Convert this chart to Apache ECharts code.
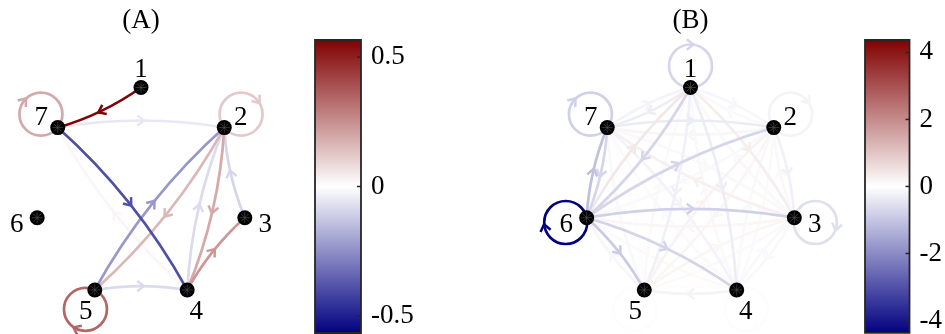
<!DOCTYPE html>
<html>
<head>
<meta charset="utf-8">
<script src="https://cdn.jsdelivr.net/npm/echarts@6/dist/echarts.min.js"></script>
<style>
  html, body { margin: 0; padding: 0; background: #fff; }
  #chart { width: 945px; height: 334px; }
</style>
</head>
<body>
<div id="chart"></div>
<script>
// nodes, same 7 in both panels
const nodeNames = ['1', '2', '3', '4', '5', '6', '7'];

// panel (A): directed edges [source, target, weight], self loops [node, weight]
const edgesA = [
  [4, 7, 0.02], [7, 2, -0.05], [5, 4, -0.08], [4, 2, -0.08], [3, 2, -0.09],
  [2, 5, 0.16], [2, 4, 0.19], [4, 3, 0.23], [5, 2, -0.23], [7, 4, -0.39], [1, 7, 0.56]
];
const loopsA = [[7, 0.19], [2, 0.12], [5, 0.34]];
const rangeA = [-0.566, 0.566];
const ticksA = [-0.5, 0, 0.5];

// panel (B)
const edgesB = [
  [1, 2, -0.15], [2, 1, -0.1], [1, 3, 0.3], [3, 1, -0.1], [1, 4, -0.3], [4, 1, -0.1],
  [1, 5, -0.25], [5, 1, 0.1], [1, 6, -0.7], [6, 1, 0.4], [1, 7, -0.3], [7, 1, -0.2],
  [2, 3, -0.25], [3, 2, -0.1], [2, 4, 0.1], [4, 2, -0.1], [2, 5, 0.15], [5, 2, 0.2],
  [2, 6, -0.1], [6, 2, -0.7], [2, 7, 0.15], [7, 2, -0.35],
  [3, 4, -0.1], [4, 3, -0.1], [3, 5, 0.1], [5, 3, 0.15], [3, 6, 0.15], [6, 3, -0.8],
  [3, 7, 0.25], [7, 3, -0.1],
  [4, 5, -0.2], [5, 4, 0.05], [4, 6, 0.1], [6, 4, -0.75], [4, 7, 0.1], [7, 4, -0.2],
  [5, 6, -0.15], [6, 5, -0.9], [5, 7, -0.1], [7, 5, 0.05],
  [6, 7, -1.1], [7, 6, -0.7]
];
const loopsB = [[1, -0.7], [2, -0.2], [3, -0.55], [4, 0.05], [5, 0.05], [7, -0.8], [6, -4.37]];
const rangeB = [-4.37, 4.37];
const ticksB = [-4, -2, 0, 2, 4];

const FONT = '"Liberation Serif", "Times New Roman", serif';
const FS = 27;
const INK = '#262626';
const LW = 2.7;
const R_PX = 106.5;   // pixels per layout unit
const SPAN = 1.3;     // axis half range
const centers = [[141, 194], [690.5, 194]];

// circular layout, node 1 on top, clockwise
const angles = nodeNames.map((_, k) => Math.PI / 2 - k * 2 * Math.PI / nodeNames.length);
const pos = angles.map(a => [Math.cos(a), Math.sin(a)]);

const navy = [0, 0, 128], white = [255, 255, 255], dred = [128, 0, 0];
function mix(a, b, f) {
  return 'rgb(' + a.map((v, i) => Math.round(v + (b[i] - v) * f)).join(',') + ')';
}
function weightColor(w, range) {
  let t = (w - range[0]) / (range[1] - range[0]);
  t = Math.max(0, Math.min(1, t));
  return t < 0.5 ? mix(navy, white, t / 0.5) : mix(white, dred, (t - 0.5) / 0.5);
}

function arrowHead(x, y, ux, uy, color) {
  const L = 8.5, ang = 0.65;
  const c = Math.cos(ang), s = Math.sin(ang);
  const tx = x + ux * 3, ty = y + uy * 3;
  const b1x = -(ux * c - uy * s), b1y = -(ux * s + uy * c);
  const b2x = -(ux * c + uy * s), b2y = -(-ux * s + uy * c);
  return {
    type: 'polyline',
    shape: { points: [[tx + b1x * L, ty + b1y * L], [tx, ty], [tx + b2x * L, ty + b2y * L]] },
    style: { stroke: color, fill: 'none', lineWidth: LW - 0.2 }
  };
}

function edgeRenderer(range) {
  return function (params, api) {
    const s = api.value(0), t = api.value(1), w = api.value(2);
    const p1 = api.coord(pos[s - 1]), p2 = api.coord(pos[t - 1]);
    const dx = p2[0] - p1[0], dy = p2[1] - p1[1];
    const len = Math.hypot(dx, dy);
    const ux = dx / len, uy = dy / len;
    const bend = 0.085 * len;
    const cx = (p1[0] + p2[0]) / 2 + uy * bend;
    const cy = (p1[1] + p2[1]) / 2 - ux * bend;
    const mx = 0.25 * p1[0] + 0.5 * cx + 0.25 * p2[0];
    const my = 0.25 * p1[1] + 0.5 * cy + 0.25 * p2[1];
    const color = weightColor(w, range);
    return {
      type: 'group',
      children: [
        {
          type: 'bezierCurve',
          shape: { x1: p1[0], y1: p1[1], x2: p2[0], y2: p2[1], cpx1: cx, cpy1: cy },
          style: { stroke: color, fill: 'none', lineWidth: LW }
        },
        arrowHead(mx, my, ux, uy, color)
      ]
    };
  };
}

function loopRenderer(range) {
  return function (params, api) {
    const k = api.value(0) - 1, w = api.value(1);
    const p = api.coord(pos[k]);
    const ox = Math.cos(angles[k]), oy = -Math.sin(angles[k]);
    const r = 21.5;
    const cx = p[0] + ox * r, cy = p[1] + oy * r;
    const color = weightColor(w, range);
    return {
      type: 'group',
      children: [
        { type: 'circle', shape: { cx: cx, cy: cy, r: r }, style: { stroke: color, fill: 'none', lineWidth: LW } },
        arrowHead(cx + ox * r, cy + oy * r, -oy, ox, color)
      ]
    };
  };
}

function colorbarRenderer(range, ticks) {
  return function (params, api) {
    const a = api.coord([0, range[1]]), b = api.coord([1, range[0]]);
    const children = [{
      type: 'rect',
      shape: { x: a[0], y: a[1], width: b[0] - a[0], height: b[1] - a[1] },
      style: {
        fill: new echarts.graphic.LinearGradient(0, 0, 0, 1, [
          { offset: 0, color: weightColor(range[1], range) },
          { offset: 0.5, color: '#ffffff' },
          { offset: 1, color: weightColor(range[0], range) }
        ]),
        stroke: INK, lineWidth: 1.8
      }
    }];
    ticks.forEach(v => {
      const y = api.coord([0, v])[1];
      children.push({ type: 'line', shape: { x1: b[0] - 4, y1: y, x2: b[0], y2: y }, style: { stroke: INK, lineWidth: 1.5 } });
    });
    return { type: 'group', children: children };
  };
}

function nodeData() {
  return nodeNames.map((name, k) => ({
    value: pos[k],
    name: name,
    label: { offset: [21 * Math.cos(angles[k]), -21 * Math.sin(angles[k]) + 3] }
  }));
}

const half = SPAN * R_PX;
const grids = [
  { left: centers[0][0] - half, top: centers[0][1] - half, width: 2 * half, height: 2 * half },
  { left: centers[1][0] - half, top: centers[1][1] - half, width: 2 * half, height: 2 * half },
  { left: 315, top: 40, width: 46, height: 293 },
  { left: 865, top: 40, width: 47, height: 293 }
];

const hiddenAxis = i => ({ gridIndex: i, type: 'value', min: -SPAN, max: SPAN, show: false });
const cbX = i => ({ gridIndex: i, type: 'value', min: 0, max: 1, show: false });
const cbY = (i, range, ticks) => ({
  gridIndex: i, type: 'value', position: 'right', min: range[0], max: range[1],
  axisLine: { show: false }, axisTick: { show: false }, splitLine: { show: false },
  axisLabel: { customValues: ticks, color: '#000', fontFamily: FONT, fontSize: FS, margin: 10 }
});

const asterisk = 'path://M0,-10L0,10M-10,0L10,0M-7,-7L7,7M-7,7L7,-7';

function panelSeries(i, edges, loops, range) {
  const sorted = edges.slice().sort((p, q) => Math.abs(p[2]) - Math.abs(q[2]));
  return [
    { type: 'custom', xAxisIndex: i, yAxisIndex: i, renderItem: edgeRenderer(range), data: sorted, silent: true, z: 2 },
    { type: 'custom', xAxisIndex: i, yAxisIndex: i, renderItem: loopRenderer(range), data: loops, silent: true, z: 3 },
    {
      type: 'scatter', xAxisIndex: i, yAxisIndex: i, data: nodeData(), symbolSize: 15, z: 4,
      itemStyle: { color: '#000', opacity: 1 },
      label: { show: true, position: 'inside', formatter: '{b}', color: '#000', fontFamily: FONT, fontSize: FS }
    },
    {
      type: 'scatter', xAxisIndex: i, yAxisIndex: i, data: pos, symbol: asterisk, symbolSize: 11, z: 5, silent: true,
      itemStyle: { color: 'none', borderColor: '#555', borderWidth: 0.6, opacity: 1 }
    }
  ];
}

const titleStyle = { fontFamily: FONT, fontSize: FS, fontWeight: 'normal', color: '#000' };

const chart = echarts.init(document.getElementById('chart'));
chart.setOption({
  animation: false,
  backgroundColor: '#fff',
  title: [
    { text: '(A)', left: centers[0][0], top: 7, textAlign: 'center', padding: 0, textStyle: titleStyle },
    { text: '(B)', left: centers[1][0], top: 7, textAlign: 'center', padding: 0, textStyle: titleStyle }
  ],
  grid: grids,
  xAxis: [hiddenAxis(0), hiddenAxis(1), cbX(2), cbX(3)],
  yAxis: [hiddenAxis(0), hiddenAxis(1), cbY(2, rangeA, ticksA), cbY(3, rangeB, ticksB)],
  series: [
    ...panelSeries(0, edgesA, loopsA, rangeA),
    ...panelSeries(1, edgesB, loopsB, rangeB),
    { type: 'custom', xAxisIndex: 2, yAxisIndex: 2, renderItem: colorbarRenderer(rangeA, ticksA), data: [[0, 0]], silent: true },
    { type: 'custom', xAxisIndex: 3, yAxisIndex: 3, renderItem: colorbarRenderer(rangeB, ticksB), data: [[0, 0]], silent: true }
  ]
});
window.addEventListener('resize', () => chart.resize());
</script>
</body>
</html>
